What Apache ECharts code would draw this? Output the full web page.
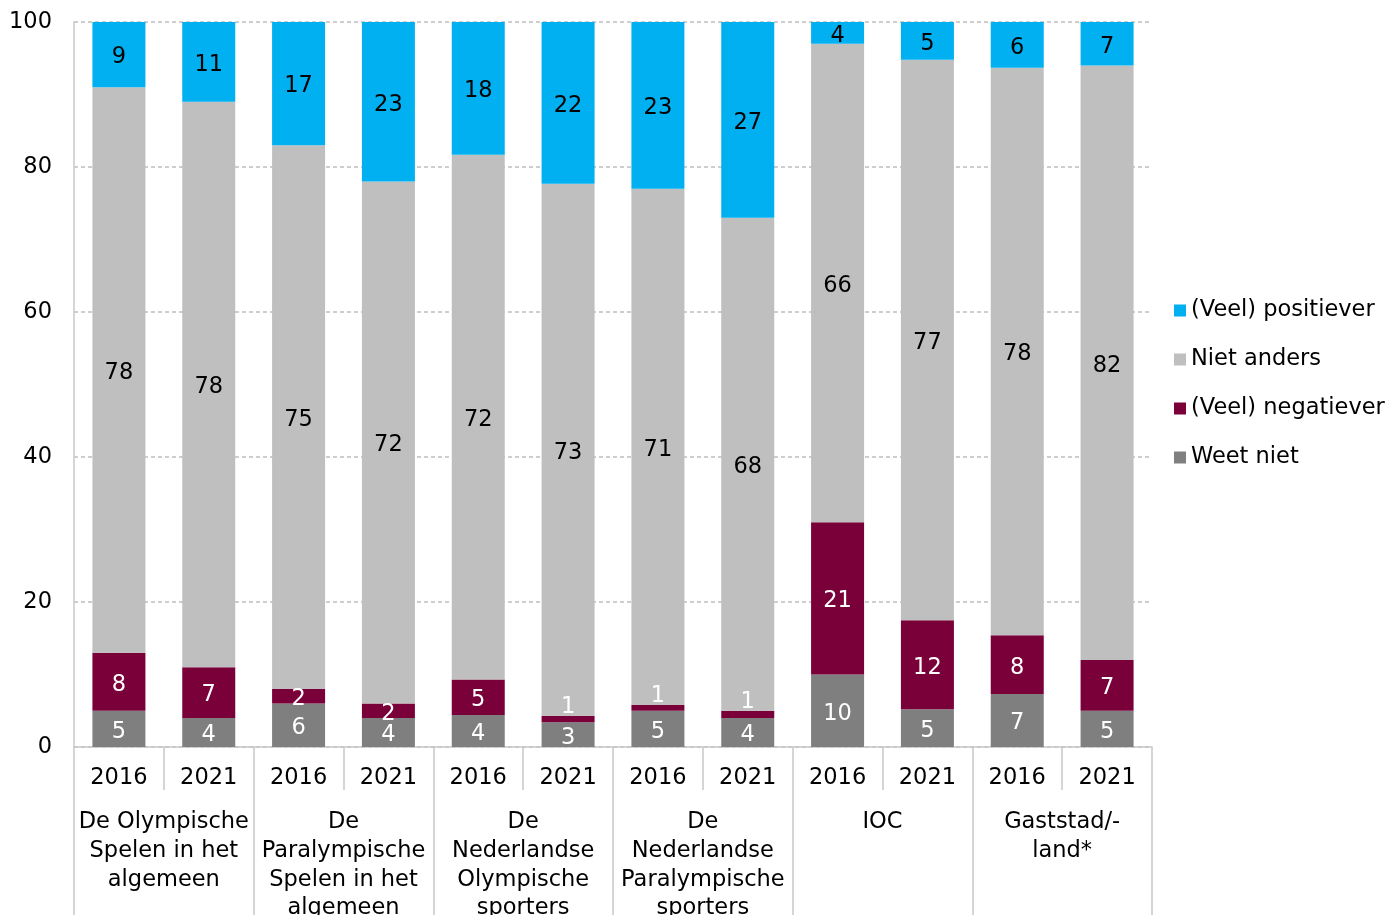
<!DOCTYPE html>
<html>
<head>
<meta charset="utf-8">
<title>Beeld veranderd</title>
<script src="https://cdn.jsdelivr.net/npm/echarts@6/dist/echarts.min.js"></script>
<style>
  html, body { margin: 0; padding: 0; background: #fff; }
  #chart { width: 1388px; height: 915px; }
</style>
</head>
<body>
<div id="chart"></div>
<script>
// jaren per staaf en groepen eronder
const years = ['2016', '2021', '2016', '2021', '2016', '2021', '2016', '2021', '2016', '2021', '2016', '2021'];
const groups = [
  'De Olympische\nSpelen in het\nalgemeen',
  'De\nParalympische\nSpelen in het\nalgemeen',
  'De\nNederlandse\nOlympische\nsporters',
  'De\nNederlandse\nParalympische\nsporters',
  'IOC',
  'Gaststad/-\nland*'
];

const weetNiet   = [5, 4, 6, 4, 4.4, 3.4, 5, 4, 10, 5.2, 7.3, 5];
const negatiever = [8, 7, 2, 2, 4.9, 0.9, 0.8, 1, 21, 12.3, 8.1, 7];
const nietAnders = [78, 78, 75, 72, 72.4, 73.4, 71.2, 68, 66, 77.3, 78.3, 82];
const positiever = [9, 11, 17, 23, 18.3, 22.3, 23, 27, 4, 5.2, 6.3, 7];

const yTicks = [0, 20, 40, 60, 80, 100];

const FONT = '"DejaVu Sans", Verdana, sans-serif';
const FS = 22.5;
const chart = echarts.init(document.getElementById('chart'));

function serie(name, data, color, labelColor) {
  return {
    name: name,
    type: 'bar',
    stack: 'totaal',
    barWidth: '59%',
    itemStyle: { color: color },
    label: {
      show: true,
      position: 'inside',
      offset: [0, 3],
      color: labelColor,
      fontFamily: FONT,
      fontSize: FS,
      formatter: p => Math.round(p.value)
    },
    // heel kleine segmenten: label erboven
    data: data.map(v => v < 1.5 ? { value: v, label: { offset: [0, -12] } } : v)
  };
}

const option = {
  animation: false,
  textStyle: { fontFamily: FONT },
  grid: { left: 74, right: 236, top: 22, bottom: 168, containLabel: false, outerBoundsMode: 'none' },
  legend: {
    orient: 'vertical',
    left: 1174,
    top: 299,
    padding: 0,
    itemWidth: 12,
    itemHeight: 12,
    itemGap: 26,
    icon: 'rect',
    textStyle: { fontFamily: FONT, fontSize: FS, color: '#000' },
    data: ['(Veel) positiever', 'Niet anders', '(Veel) negatiever', 'Weet niet']
  },
  xAxis: [
    {
      type: 'category',
      data: years,
      axisLine: { lineStyle: { color: '#c8c8c8', width: 1.5 } },
      axisTick: { show: true, interval: 0, length: 43, lineStyle: { color: '#c8c8c8', width: 1.5 } },
      axisLabel: { interval: 0, margin: 20, color: '#000', fontFamily: FONT, fontSize: FS }
    },
    {
      type: 'category',
      data: groups,
      position: 'bottom',
      axisLine: { show: false },
      axisTick: { show: true, interval: 0, length: 175, lineStyle: { color: '#c8c8c8', width: 1.5 } },
      axisLabel: { interval: 0, margin: 61, color: '#000', fontFamily: FONT, fontSize: FS, lineHeight: 28.7 }
    }
  ],
  yAxis: {
    type: 'value',
    min: yTicks[0],
    max: yTicks[yTicks.length - 1],
    interval: 20,
    axisLine: { show: true, lineStyle: { color: '#c8c8c8', width: 1.5 } },
    axisTick: { show: false },
    axisLabel: { margin: 22, color: '#000', fontFamily: FONT, fontSize: FS },
    splitLine: { show: true, lineStyle: { color: '#bfbfbf', type: [4, 3], width: 1.5 } }
  },
  series: [
    serie('Weet niet', weetNiet, '#7f7f7f', '#fff'),
    serie('(Veel) negatiever', negatiever, '#7a0039', '#fff'),
    serie('Niet anders', nietAnders, '#bfbfbf', '#000'),
    serie('(Veel) positiever', positiever, '#00b0f0', '#000')
  ]
};

chart.setOption(option);
</script>
</body>
</html>
